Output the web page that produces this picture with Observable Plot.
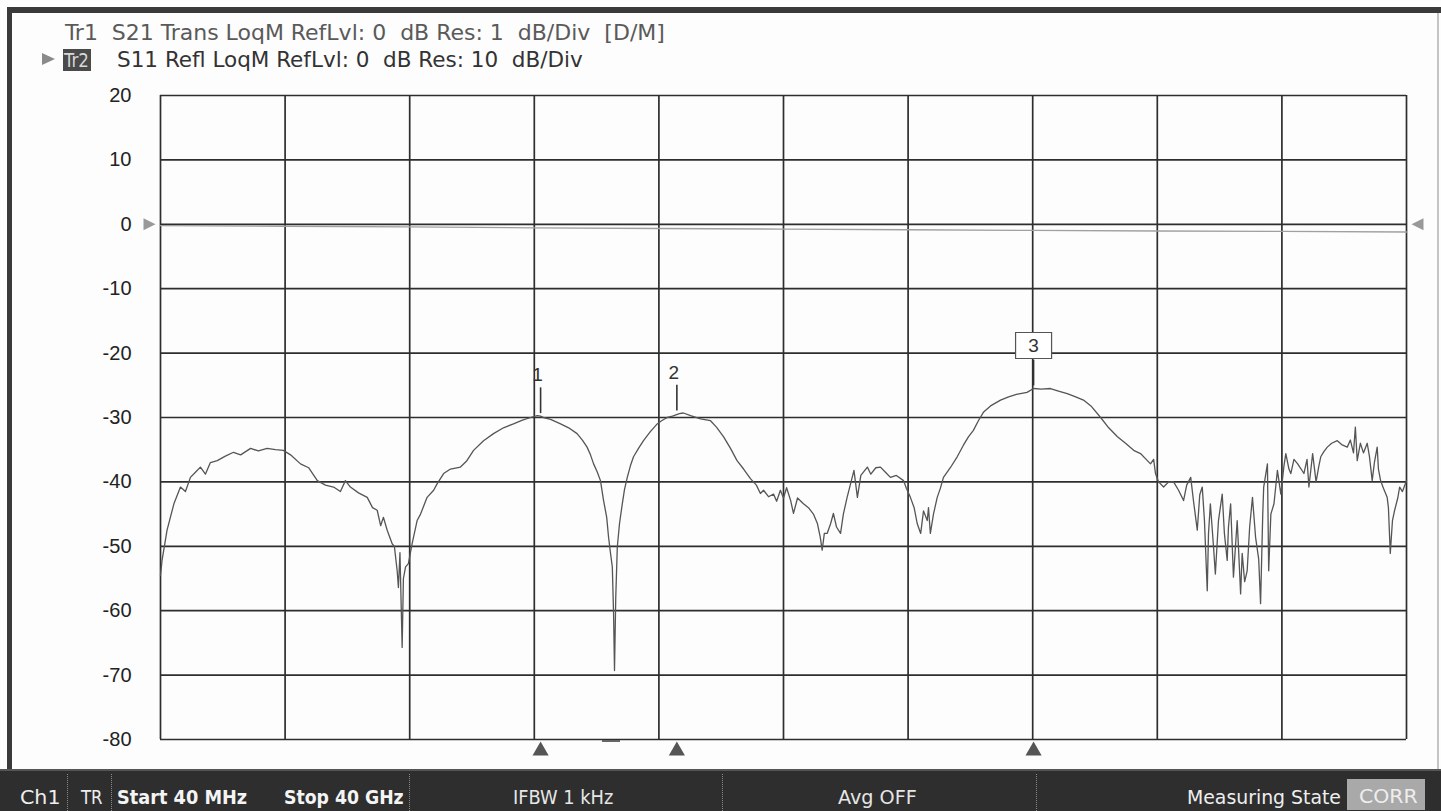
<!DOCTYPE html>
<html><head><meta charset="utf-8">
<script src="https://cdn.jsdelivr.net/npm/d3@7"></script>
<script src="https://cdn.jsdelivr.net/npm/@observablehq/plot@0.6"></script>
<style>
html,body{margin:0;padding:0;background:#fff;}
#wrap{position:relative;width:1441px;height:811px;overflow:hidden;background:#fdfdfd;}
#wrap svg{position:absolute;left:0;top:0;}
.t{position:absolute;white-space:pre;transform-origin:0 50%;line-height:1;font-family:"Liberation Sans Narrow","DejaVu Sans Condensed","Liberation Sans",sans-serif;}
.b{position:absolute;}
</style></head><body><div id="wrap"></div>
<script>
// ---- data ----
const freqGHz = [0.04,0.09,0.25,0.47,0.68,0.84,1.00,1.16,1.32,1.48,
1.64,1.86,2.12,2.38,2.61,2.93,3.18,3.46,3.73,3.98,
4.21,4.53,4.79,5.07,5.33,5.59,5.81,5.97,6.13,6.39,
6.67,6.84,6.99,7.10,7.19,7.31,7.47,7.54,7.63,7.67,
7.72,7.79,7.83,7.90,7.99,8.11,8.27,8.38,8.59,8.80,
8.91,9.12,9.34,9.66,9.85,10.08,10.40,10.72,11.04,11.36,
11.65,11.91,12.12,12.23,12.32,12.55,12.87,13.13,13.40,13.57,
13.72,13.83,13.93,14.05,14.15,14.25,14.35,14.41,14.47,14.53,
14.57,14.60,14.64,14.69,14.76,14.85,14.92,15.01,15.11,15.21,
15.37,15.53,15.75,15.97,16.11,16.29,16.46,16.68,16.81,17.04,
17.36,17.68,17.87,18.10,18.32,18.53,18.74,18.96,19.15,19.28,
19.38,19.54,19.70,19.80,19.92,20.02,20.12,20.25,20.34,20.47,
20.66,20.82,20.98,21.11,21.20,21.26,21.33,21.42,21.53,21.62,
21.72,21.85,21.94,22.06,22.16,22.28,22.39,22.50,22.71,22.82,
22.98,23.13,23.29,23.45,23.64,23.87,23.96,24.09,24.21,24.31,
24.42,24.51,24.63,24.67,24.73,24.83,24.95,25.05,25.15,25.37,
25.59,25.79,25.95,26.11,26.27,26.43,26.66,26.98,27.24,27.49,
27.83,28.04,28.29,28.58,28.84,29.12,29.39,29.64,29.90,30.19,
30.45,30.73,30.99,31.25,31.47,31.69,31.79,31.89,31.95,32.05,
32.21,32.37,32.53,32.69,32.85,32.95,33.08,33.17,33.29,33.37,
33.45,33.52,33.61,33.65,33.71,33.81,33.87,33.97,34.09,34.16,
34.25,34.29,34.36,34.45,34.57,34.61,34.68,34.73,34.81,34.89,
34.97,35.06,35.16,35.26,35.32,35.39,35.42,35.54,35.58,35.65,
35.75,35.86,35.97,36.07,36.13,36.23,36.29,36.39,36.51,36.62,
36.71,36.81,36.87,36.99,37.10,37.19,37.25,37.35,37.46,37.60,
37.78,37.92,38.10,38.20,38.30,38.36,38.42,38.52,38.62,38.74,
38.81,38.90,38.97,39.06,39.10,39.17,39.26,39.38,39.42,39.48,
39.55,39.62,39.72,39.78,39.87,40.00];
const s11dB = [-54.5,-52.2,-47.5,-43.4,-40.8,-41.5,-39.3,-38.5,-37.7,-38.8,
-37.0,-36.7,-36.0,-35.4,-35.8,-34.8,-35.2,-34.8,-35.0,-35.1,
-35.8,-37.2,-37.8,-39.8,-40.5,-40.8,-41.5,-39.8,-40.8,-41.7,
-42.4,-44.0,-44.4,-46.8,-45.5,-47.5,-49.6,-50.0,-53.8,-56.4,
-51.0,-65.7,-55.0,-53.2,-52.7,-49.6,-46.0,-45.0,-42.4,-41.3,
-40.3,-38.7,-38.0,-37.7,-36.8,-35.1,-33.6,-32.5,-31.6,-31.0,
-30.4,-30.0,-29.7,-29.8,-30.0,-30.3,-31.0,-31.6,-32.5,-33.5,
-34.6,-35.8,-37.2,-38.5,-39.8,-42.9,-45.5,-48.6,-51.0,-53.2,
-60.4,-69.3,-58.0,-50.1,-46.5,-43.4,-41.2,-39.3,-37.5,-36.1,
-34.8,-33.6,-32.2,-31.0,-30.5,-30.0,-29.8,-29.4,-29.3,-29.7,
-30.2,-30.5,-31.5,-33.0,-34.8,-36.7,-38.0,-39.5,-40.5,-41.8,
-41.3,-42.3,-41.9,-43.0,-41.3,-42.5,-40.9,-42.9,-44.9,-42.5,
-43.4,-44.0,-45.0,-46.5,-48.6,-50.6,-48.0,-48.0,-46.5,-44.9,
-47.0,-48.0,-45.0,-42.4,-40.5,-38.2,-42.4,-39.0,-37.7,-38.8,
-37.8,-37.7,-38.5,-39.3,-39.0,-39.8,-41.0,-42.4,-44.0,-46.5,
-48.0,-44.5,-46.0,-44.0,-48.0,-45.0,-42.4,-41.0,-39.3,-37.8,
-36.1,-34.3,-33.0,-32.0,-30.5,-29.2,-28.2,-27.3,-26.8,-26.4,
-26.1,-25.5,-25.6,-25.5,-25.9,-26.3,-26.8,-27.3,-28.3,-30.0,
-31.6,-33.0,-34.0,-35.1,-35.6,-36.7,-37.2,-36.5,-38.7,-40.0,
-40.8,-40.0,-40.0,-41.3,-42.9,-40.5,-39.3,-43.0,-47.5,-42.0,
-40.8,-46.0,-56.9,-48.0,-43.4,-50.0,-54.3,-46.0,-41.9,-48.0,
-52.2,-47.0,-43.4,-54.8,-46.0,-50.0,-57.4,-51.1,-55.5,-53.8,
-47.0,-42.4,-48.6,-52.0,-58.9,-45.0,-40.8,-37.2,-53.8,-45.0,
-43.4,-38.2,-41.9,-37.5,-35.6,-38.0,-38.7,-36.5,-37.2,-38.0,
-38.7,-36.5,-40.8,-35.6,-40.0,-37.5,-36.1,-35.3,-34.6,-34.0,
-33.6,-34.2,-34.6,-33.5,-35.5,-31.5,-36.7,-34.0,-35.5,-34.0,
-36.0,-39.8,-37.0,-34.6,-38.0,-39.8,-41.0,-42.4,-44.0,-51.1,
-46.0,-44.4,-42.5,-40.8,-41.5,-39.8];

// Tr1 S21 (1 dB/div, drawn on the 10 dB/div grid => x10)
const s21Freq = [0.04,4,8,12,16,20,24,28,32,36,40];
const s21dB  = [-0.02,-0.03,-0.04,-0.055,-0.065,-0.075,-0.085,-0.095,-0.105,-0.11,-0.12];

const markerIds  = ["1","2","3"];
const markerFreq = [12.23,16.60,28.04];
const markerdB   = [-29.8,-29.4,-25.5];

const yTicks = [-80,-70,-60,-50,-40,-30,-20,-10,0,10,20];
const startGHz = 0.04, stopGHz = 40, divisions = 10;

// ---- tables ----
const s11 = freqGHz.map((f,i)=>({f, db:s11dB[i]}));
const s21 = s21Freq.map((f,i)=>({f, v:s21dB[i]*10}));
const markers = markerIds.map((id,i)=>({id, f:markerFreq[i], db:markerdB[i]}));
const boxed = markers.filter(d => d.id === "3");
const plain = markers.filter(d => d.id !== "3");
const xGrid = d3.range(divisions+1).map(k=>startGHz + k*(stopGHz-startGHz)/divisions);

const triUp = {draw(c, size){const r=Math.sqrt(size/Math.PI); c.moveTo(0,-r); c.lineTo(r*1.15,r); c.lineTo(-r*1.15,r); c.closePath();}};
const triRight = {draw(c, size){const r=Math.sqrt(size/Math.PI); c.moveTo(r,0); c.lineTo(-r,-r); c.lineTo(-r,r); c.closePath();}};
const triLeft = {draw(c, size){const r=Math.sqrt(size/Math.PI); c.moveTo(-r,0); c.lineTo(r,-r); c.lineTo(r,r); c.closePath();}};
const rectBox = {draw(c){c.rect(-18,-13,36,26);}};

const chart = Plot.plot({
  width: 1441, height: 811,
  marginLeft: 160, marginRight: 35, marginTop: 95, marginBottom: 72,
  x: {domain: [startGHz, stopGHz], axis: null},
  y: {domain: [-80, 20], axis: null},
  style: {background: "transparent", fontFamily: "'Liberation Sans', Arial, sans-serif", overflow: "visible"},
  marks: [
    Plot.gridX(xGrid, {stroke: "#2e2e2e", strokeOpacity: 1, strokeWidth: 1.7}),
    Plot.gridY(yTicks, {stroke: "#2e2e2e", strokeOpacity: 1, strokeWidth: 1.7}),
    Plot.axisY(yTicks, {tickSize: 0, tickPadding: 29, fontSize: 20, fill: "#222", tickFormat: d => String(d)}),
    Plot.line(s21, {x: "f", y: "v", stroke: "#a0a0a0", strokeWidth: 1.4}),
    Plot.line(s11, {x: "f", y: "db", stroke: "#555555", strokeWidth: 1.3}),
    Plot.ruleX(markers, {x: "f", y1: d => d.db + 0.4, y2: d => d.db + 4.4, stroke: "#333", strokeWidth: 1.6}),
    Plot.dot(boxed, {x: "f", y: "db", dy: -43, symbol: rectBox, r: 10, stroke: "#555", strokeWidth: 1.2, fill: "white"}),
    Plot.text(plain, {x: "f", y: "db", text: "id", dy: -41, dx: -3, fontSize: 19, fill: "#333"}),
    Plot.text(boxed, {x: "f", y: "db", text: "id", dy: -43, fontSize: 19, fill: "#333"}),
    Plot.dot(markers, {x: "f", y: () => -80, dy: 9, symbol: triUp, r: 7, fill: "#555"}),
    Plot.dot([0], {x: () => startGHz, y: () => 0, dx: -11, symbol: triRight, r: 6, fill: "#999"}),
    Plot.dot([0], {x: () => stopGHz, y: () => 0, dx: 11, symbol: triLeft, r: 6, fill: "#999"})
  ]
});
const wrap = document.getElementById("wrap");
wrap.appendChild(chart);

// ---- overlays (header, frame, status bar) ----
function box(left, top, w, h, bg, extra){const d=document.createElement("div"); d.className="b"; Object.assign(d.style,{left:left+"px",top:top+"px",width:w+"px",height:h+"px",background:bg}, extra||{}); wrap.appendChild(d); return d;}
const fits = [];
function txt(s, left, cy, width, size, color, weight){
  const e=document.createElement("span"); e.className="t"; e.textContent=s;
  Object.assign(e.style,{left:left+"px",top:cy+"px",fontSize:size+"px",color:color,fontWeight:weight||"normal"});
  wrap.appendChild(e); fits.push([e,width]); return e;
}
function doFit(){ for(const [e,w] of fits){ const ow=e.offsetWidth||1; e.style.transform=`translateY(-50%) scaleX(${w/ow})`; } }

// screen frame
box(8, 7, 1433, 6, "#3a3a3a");
box(7, 7, 5, 765, "#3a3a3a");
box(1437, 13, 2, 756, "#c4c4c4");

// header
txt("Tr1  S21 Trans LoqM RefLvl: 0  dB Res: 1  dB/Div  [D/M]", 65, 33, 600, 21, "#5a5a5a");
box(42, 53, 0, 0, "transparent", {borderTop:"6px solid transparent", borderBottom:"6px solid transparent", borderLeft:"13px solid #8a8a8a"});
box(63, 49, 28, 22, "#4a4a4a");
txt("Tr2", 64, 60, 25, 20, "#d8d8d8");
txt("S11 Refl LoqM RefLvl: 0  dB Res: 10  dB/Div", 117, 60, 466, 21, "#333");

// little dash below axis
box(602, 740, 18, 2, "#666");

// status bar
box(0, 769, 1441, 42, "#2e2e2e", {borderTop:"2px solid #555", boxSizing:"border-box"});
for (const x of [67, 111, 409, 722, 1036]) box(x, 774, 0, 37, "transparent", {borderLeft:"1px dotted #8a8a8a"});
txt("Ch1", 20, 797, 40, 20, "#eeeeee");
txt("TR", 81, 797, 22, 20, "#eeeeee");
txt("Start 40 MHz", 117, 797, 130, 20, "#f4f4f4", "bold");
txt("Stop 40 GHz", 284, 797, 120, 20, "#f4f4f4", "bold");
txt("IFBW 1 kHz", 513, 797, 100, 20, "#e6e6e6");
txt("Avg OFF", 838, 797, 79, 20, "#e6e6e6");
txt("Measuring State", 1187, 797, 154, 20, "#eeeeee");
box(1347, 779, 78, 31, "#a9a9a9");
txt("CORR", 1359, 796, 59, 20, "#eeeeee");

doFit();
if (document.fonts && document.fonts.ready) document.fonts.ready.then(doFit);
</script></body></html>
